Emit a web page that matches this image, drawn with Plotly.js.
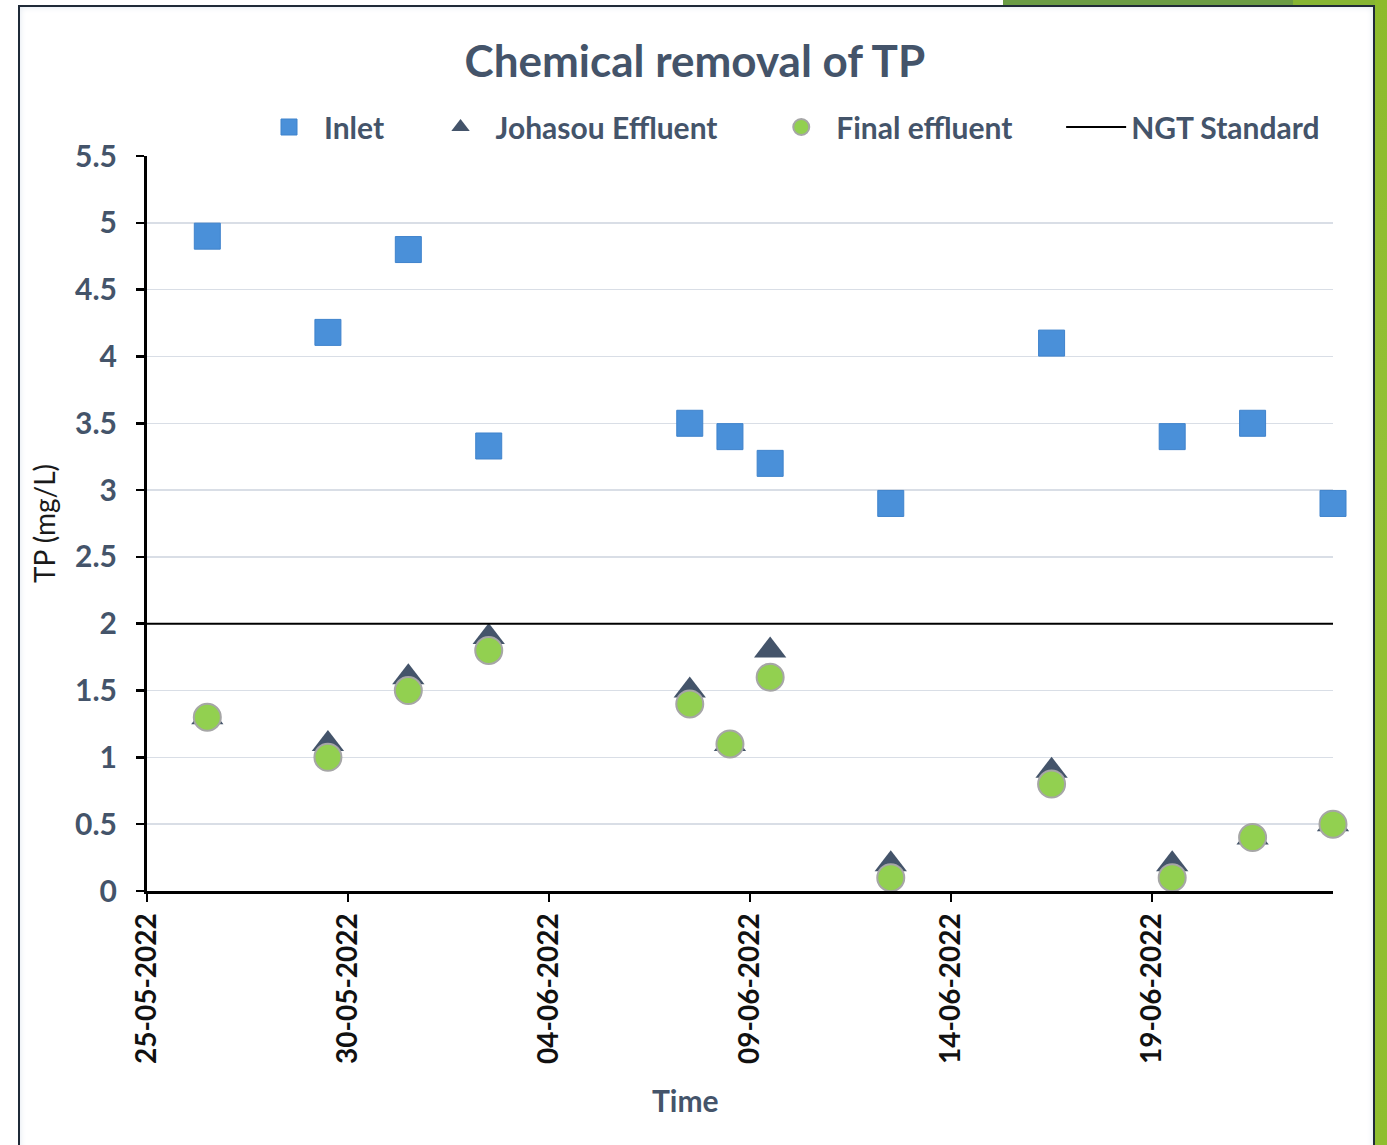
<!DOCTYPE html>
<html>
<head>
<meta charset="utf-8">
<script src="https://cdn.plot.ly/plotly-3.0.1.min.js"></script>
<style>
  html, body { margin: 0; padding: 0; width: 1387px; height: 1145px; overflow: hidden; background: #ffffff; }
  #deco-right { position: absolute; left: 1375px; top: 0; width: 12px; height: 1145px; background: linear-gradient(180deg, #8dbb2c 0%, #93c136 40%, #8fbe2f 100%); }
  #deco-top1 { position: absolute; left: 1003px; top: 0; width: 290px; height: 6px; background: #6b9c45; }
  #deco-top2 { position: absolute; left: 1293px; top: 0; width: 94px; height: 6px; background: #86b533; }
  #frame { position: absolute; left: 18px; top: 5px; width: 1353px; height: 1160px; border: 2px solid #1f2a38; background: #ffffff; box-shadow: inset 0 0 6px #dfe6ee; }
  #chart { position: absolute; left: 0; top: 0; width: 1387px; height: 1145px; }
</style>
</head>
<body>
<div id="deco-top1"></div>
<div id="deco-top2"></div>
<div id="deco-right"></div>
<div id="frame"></div>
<div id="chart"></div>
<script>
// ---- data ----
const dates = ['2022-05-26 12:00','2022-05-29 12:00','2022-05-31 12:00','2022-06-02 12:00','2022-06-07 12:00','2022-06-08 12:00','2022-06-09 12:00','2022-06-12 12:00','2022-06-16 12:00','2022-06-19 12:00','2022-06-21 12:00','2022-06-23 12:00'];
const inlet = [4.9, 4.18, 4.8, 3.33, 3.5, 3.4, 3.2, 2.9, 4.1, 3.4, 3.5, 2.9];
const johasouEffluent = [1.3, 1.1, 1.6, 1.9, 1.5, 1.1, 1.8, 0.2, 0.9, 0.2, 0.4, 0.5];
const finalEffluent = [1.3, 1.0, 1.5, 1.8, 1.4, 1.1, 1.6, 0.1, 0.8, 0.1, 0.4, 0.5];
const ngtStandard = 2;
const xStart = '2022-05-25';
const xEnd = '2022-06-23 12:00';
const seriesNames = ['Inlet', 'Johasou Effluent', 'Final effluent', 'NGT Standard'];

const FONT = 'Lato, "Open Sans", sans-serif';
const SLATE = '#44546a';
const pad = n => '\u00a0'.repeat(n);

const traces = [
  { x: dates, y: inlet, name: seriesNames[0] + pad(5), type: 'scatter', mode: 'markers', cliponaxis: false,
    marker: { symbol: 'square', size: 26, color: '#4a90d9', line: { color: '#3f83cc', width: 1 } } },
  { x: dates, y: johasouEffluent, name: seriesNames[1] + pad(6), type: 'scatter', mode: 'markers', cliponaxis: false,
    marker: { symbol: 'triangle-up', size: 28, color: SLATE, line: { width: 0 } } },
  { x: dates, y: finalEffluent, name: seriesNames[2] + pad(6), type: 'scatter', mode: 'markers', cliponaxis: false,
    marker: { symbol: 'circle', size: 27, color: '#92d050', line: { color: '#a6a6a6', width: 2 } } },
  { x: [xStart, xEnd], y: [ngtStandard, ngtStandard], name: seriesNames[3], type: 'scatter', mode: 'lines', cliponaxis: false,
    line: { color: '#000000', width: 2 } }
];

const layout = {
  width: 1387, height: 1145,
  paper_bgcolor: 'rgba(0,0,0,0)', plot_bgcolor: 'rgba(0,0,0,0)',
  margin: { l: 147, r: 54, t: 156, b: 254, pad: 0 },
  font: { family: FONT, color: SLATE },
  title: { text: '<b>Chemical removal of TP</b>', x: 0.501, xref: 'container', xanchor: 'center',
           y: 1 - 62 / 1145, yref: 'container', yanchor: 'middle',
           font: { family: FONT, size: 44, color: SLATE } },
  showlegend: true,
  legend: { orientation: 'h', xref: 'container', yref: 'container', x: 254 / 1387, xanchor: 'left',
            y: 1 - 127 / 1145, yanchor: 'middle', bgcolor: 'rgba(0,0,0,0)',
            font: { family: FONT, size: 30, color: SLATE, weight: 'bold' }, itemwidth: 60, tracegroupgap: 0 },
  xaxis: {
    type: 'date', range: [xStart, xEnd], tick0: xStart, dtick: 5 * 86400000,
    tickformat: '%d-%m-%Y', tickangle: -90, ticks: 'outside', ticklen: 8, tickwidth: 2.5, tickcolor: '#000',
    showline: true, linecolor: '#000', linewidth: 3, showgrid: false, zeroline: false,
    tickfont: { family: FONT, size: 28, color: '#111', weight: 'bold' }
  },
  yaxis: {
    range: [0, 5.5], dtick: 0.5, tick0: 0, ticks: 'outside', ticklen: 8, tickwidth: 2.5, tickcolor: '#000',
    showline: true, linecolor: '#000', linewidth: 3, showgrid: true, gridcolor: '#d9dee6', gridwidth: 1.5,
    zeroline: false, ticklabelstandoff: 13,
    tickfont: { family: FONT, size: 30, color: SLATE, weight: 'bold' },
    title: { text: 'TP (mg/L)', font: { family: FONT, size: 28, color: '#1a1a1a' }, standoff: 12 }
  },
  annotations: [
    { text: '<b>Time</b>', xref: 'paper', yref: 'paper', x: (685 - 147) / (1333 - 147), y: -(1100 - 891) / (891 - 156),
      xanchor: 'center', yanchor: 'middle', showarrow: false, font: { family: FONT, size: 30, color: SLATE } }
  ]
};

Plotly.newPlot('chart', traces, layout, { displayModeBar: false, staticPlot: true });
</script>
</body>
</html>
